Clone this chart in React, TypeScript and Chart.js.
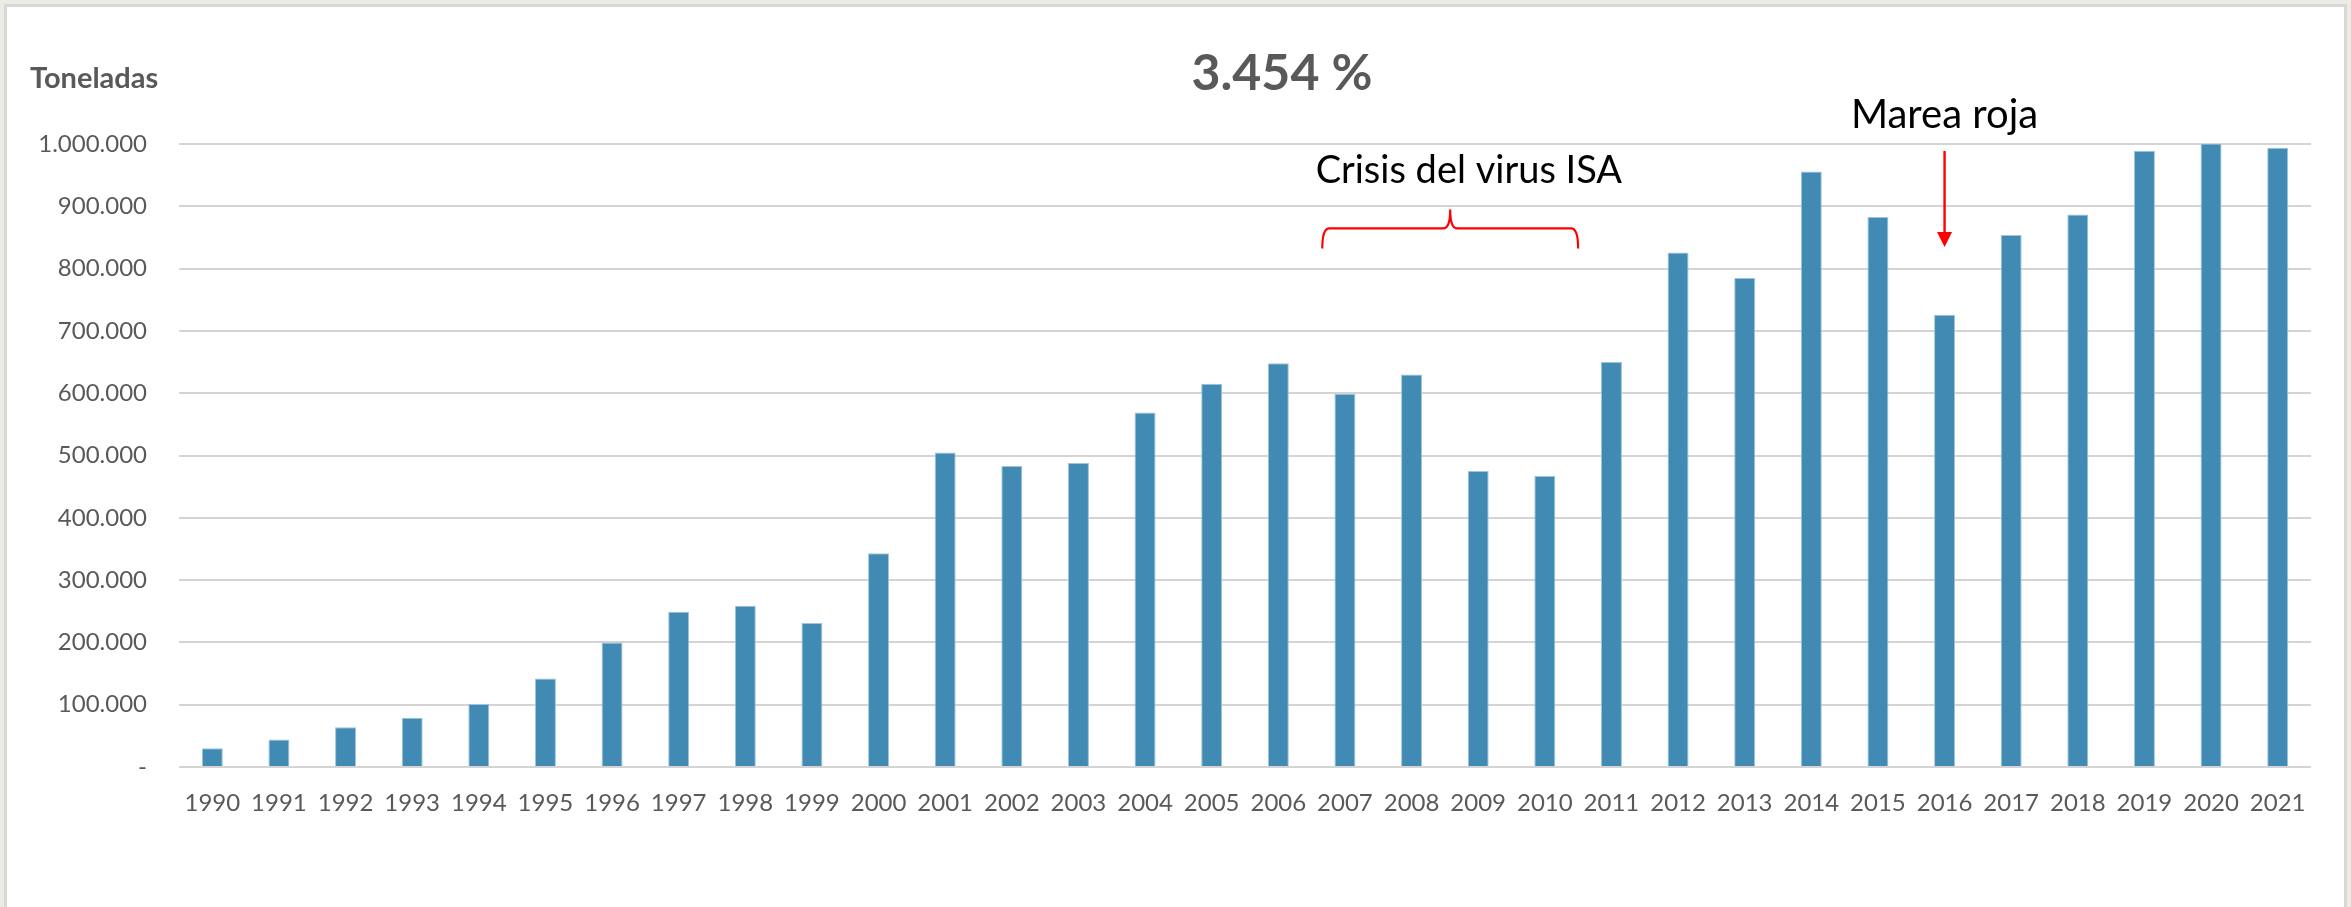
import React, { useEffect, useRef } from 'react';
import { Chart, registerables } from 'chart.js';

Chart.register(...registerables);

// ---- data ----
const years = [
  '1990', '1991', '1992', '1993', '1994', '1995', '1996', '1997', '1998', '1999',
  '2000', '2001', '2002', '2003', '2004', '2005', '2006', '2007', '2008', '2009',
  '2010', '2011', '2012', '2013', '2014', '2015', '2016', '2017', '2018', '2019',
  '2020', '2021',
];
const tonnes = [
  30000, 44000, 64000, 79000, 101000, 142000, 200000, 249000, 259000, 231000,
  343000, 505000, 483000, 488000, 569000, 615000, 648000, 599000, 630000, 475000,
  467000, 650000, 826000, 785000, 956000, 883000, 726000, 854000, 887000, 989000,
  1001000, 994000,
];
const yTickMax = 1000000;
const yTickStep = 100000;

const titleText = '3.454 %';
const yAxisTitle = 'Toneladas';

// annotation anchors, in data units (category index, tonnes)
const crisisLabel = 'Crisis del virus ISA';
const crisisLabelAt = { x: 18.86, y: 937000 };
const crisisBrace = { from: 16.66, to: 20.5, line: 864600, tips: 832400, peak: 895000 };
const redTideLabel = 'Marea roja';
const redTideLabelAt = { x: 26, y: 1025700 };
const redTideArrow = { x: 26, from: 988800, to: 834500 };

const fmt = (v: number) =>
  v === 0 ? '-' : String(Math.round(v)).replace(/\B(?=(\d{3})+(?!\d))/g, '.');

const FONT = 'Lato, "Open Sans", sans-serif';
const GRAY = '#595959';
const RED = '#ff0000';

const annotationPlugin = {
  id: 'annotations',
  afterDraw(chart: any) {
    const ctx: CanvasRenderingContext2D = chart.ctx;
    const xs = chart.scales.x;
    const ys = chart.scales.y;
    ctx.save();

    // Title & axis title
    ctx.fillStyle = GRAY;
    ctx.textBaseline = 'alphabetic';
    ctx.textAlign = 'center';
    ctx.font = `bold 50px ${FONT}`;
    ctx.fillText(titleText, 1282, 90);
    ctx.textAlign = 'left';
    ctx.font = `bold 29px ${FONT}`;
    ctx.fillText(yAxisTitle, 30, 88);

    // Crisis label + brace
    ctx.fillStyle = '#000000';
    ctx.textAlign = 'center';
    ctx.font = `38px ${FONT}`;
    ctx.fillText(crisisLabel, xs.getPixelForValue(crisisLabelAt.x), ys.getPixelForValue(crisisLabelAt.y));

    const x1 = xs.getPixelForValue(crisisBrace.from);
    const x2 = xs.getPixelForValue(crisisBrace.to);
    const xm = (x1 + x2) / 2;
    const yH = ys.getPixelForValue(crisisBrace.line);
    const yT = ys.getPixelForValue(crisisBrace.tips);
    const yP = ys.getPixelForValue(crisisBrace.peak);
    const r = 7;
    ctx.strokeStyle = RED;
    ctx.lineWidth = 2.2;
    ctx.beginPath();
    ctx.moveTo(x1, yT);
    ctx.quadraticCurveTo(x1, yH, x1 + r, yH);
    ctx.lineTo(xm - r, yH);
    ctx.quadraticCurveTo(xm, yH, xm, yP);
    ctx.quadraticCurveTo(xm, yH, xm + r, yH);
    ctx.lineTo(x2 - r, yH);
    ctx.quadraticCurveTo(x2, yH, x2, yT);
    ctx.stroke();

    // Red tide label + arrow
    ctx.fillStyle = '#000000';
    ctx.font = `40px ${FONT}`;
    ctx.fillText(redTideLabel, xs.getPixelForValue(redTideLabelAt.x), ys.getPixelForValue(redTideLabelAt.y));
    const ax = xs.getPixelForValue(redTideArrow.x);
    const ay1 = ys.getPixelForValue(redTideArrow.from);
    const ay2 = ys.getPixelForValue(redTideArrow.to);
    const head = 15;
    ctx.lineWidth = 2.4;
    ctx.beginPath();
    ctx.moveTo(ax, ay1);
    ctx.lineTo(ax, ay2 - head + 2);
    ctx.stroke();
    ctx.fillStyle = RED;
    ctx.beginPath();
    ctx.moveTo(ax - 7.5, ay2 - head);
    ctx.lineTo(ax + 7.5, ay2 - head);
    ctx.lineTo(ax, ay2);
    ctx.closePath();
    ctx.fill();

    ctx.restore();
  },
};

export default function App() {
  const canvasRef = useRef<HTMLCanvasElement | null>(null);

  useEffect(() => {
    document.body.style.margin = '0';
    const canvas = canvasRef.current;
    if (!canvas) return;
    const chart = new Chart(canvas, {
      type: 'bar',
      data: {
        labels: years,
        datasets: [
          {
            data: tonnes,
            backgroundColor: '#418ab3',
            borderColor: '#9cc4dc',
            borderWidth: 1,
            barPercentage: 0.315,
            categoryPercentage: 1,
          },
        ],
      },
      options: {
        animation: false,
        responsive: false,
        devicePixelRatio: 1,
        layout: { padding: { top: 144, right: 40, left: 0, bottom: 0 } },
        plugins: {
          legend: { display: false },
          tooltip: { enabled: false },
          title: { display: false },
        },
        scales: {
          x: {
            grid: { display: false, drawTicks: false },
            border: { display: false },
            ticks: {
              color: GRAY,
              font: { family: FONT, size: 24 },
              padding: 22,
              maxRotation: 0,
              autoSkip: false,
            },
            afterFit: (s: any) => {
              s.height = 140;
            },
          },
          y: {
            min: 0,
            max: yTickMax,
            grid: { color: '#d4d4d4', lineWidth: 2, drawTicks: false },
            border: { display: false },
            ticks: {
              stepSize: yTickStep,
              color: GRAY,
              font: { family: FONT, size: 24 },
              padding: 32,
              callback: (v: any) => fmt(Number(v)),
            },
            afterFit: (s: any) => {
              s.width = 179;
            },
          },
        },
      },
      plugins: [annotationPlugin],
    });
    return () => chart.destroy();
  }, []);

  return (
    <div
      style={{
        position: 'absolute',
        left: 0,
        top: 0,
        width: 2351,
        height: 907,
        background: '#eaede5',
        overflow: 'hidden',
      }}
    >
      <div
        style={{
          position: 'absolute',
          left: 4,
          top: 4,
          width: 2337,
          height: 1000,
          background: '#ffffff',
          border: '3px solid #d8d8d8',
        }}
      />
      <canvas
        ref={canvasRef}
        width={2351}
        height={907}
        style={{ position: 'absolute', left: 0, top: 0, width: 2351, height: 907 }}
      />
    </div>
  );
}
